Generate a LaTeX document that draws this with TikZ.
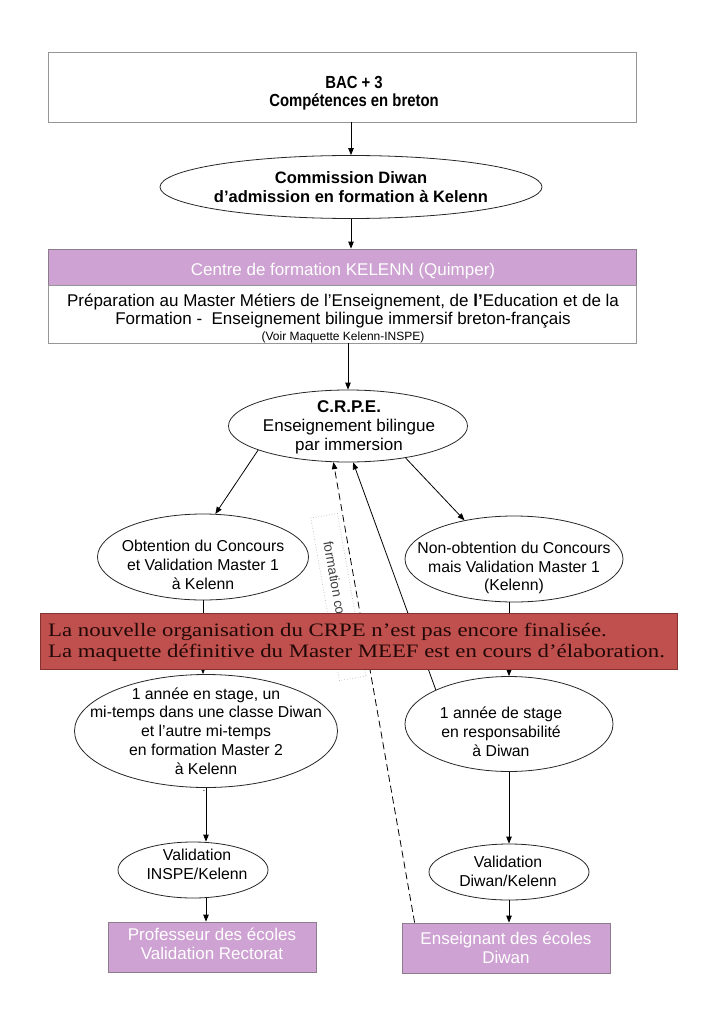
\documentclass[tikz,border=0pt]{standalone}
\usepackage{fontspec}
\setmainfont{Liberation Sans}
\newfontfamily\narrowf[FakeStretch=0.85]{Liberation Sans}
\newfontfamily\bannerf[FakeStretch=1.2]{Liberation Serif}
\usetikzlibrary{shapes.geometric,arrows.meta,calc}
\definecolor{lila}{RGB}{206,162,210}
\definecolor{lilaborder}{RGB}{140,125,140}
\definecolor{bannerred}{RGB}{192,80,77}
\definecolor{bannerborder}{RGB}{130,50,48}
\definecolor{bannertext}{RGB}{35,8,8}
\definecolor{boxgray}{RGB}{150,150,150}
\tikzset{
  ell/.style={ellipse, draw=black!85, line width=0.8pt, inner sep=0pt},
  txt/.style={align=center, inner sep=0pt, font=\fontsize{15.8}{18.8}\selectfont},
  bigtxt/.style={align=center, inner sep=0pt, font=\fontsize{17}{19}\selectfont},
  arr/.style={-{Triangle[length=7pt,width=5.5pt]}, line width=0.8pt, draw=black},
  graybox/.style={rectangle, draw=boxgray, line width=0.8pt, inner sep=0pt},
  pbox/.style={rectangle, draw=lilaborder, fill=lila, line width=0.8pt, inner sep=0pt},
  ptxt/.style={align=center, inner sep=0pt, text=white, font=\fontsize{17}{18.5}\selectfont}
}
\begin{document}
\begin{tikzpicture}[x=1pt,y=-1pt]
\useasboundingbox (0,0) rectangle (724,1024);
% top box
\node[graybox, minimum width=588pt, minimum height=70pt] (bac) at (342,87) {};
\node[align=center, inner sep=0pt, font=\narrowf\bfseries\fontsize{17.5}{18.5}\selectfont] (bact) at (354,93) {BAC + 3\\Compétences en breton};
% commission
\node[ell, minimum width=382pt, minimum height=63pt] (com) at (351,187) {};
\node[align=center, inner sep=0pt, font=\bfseries\fontsize{16.5}{19}\selectfont] (comt) at (351,187) {Commission Diwan\\d’admission en formation à Kelenn};
% Kelenn
\node[pbox, minimum width=588pt, minimum height=36pt] (kel) at (342,267) {};
\node[ptxt] (kelt) at (343,271) {Centre de formation KELENN (Quimper)};
\node[graybox, minimum width=588pt, minimum height=58pt] (prep) at (342,314) {};
\node[txt, font=\fontsize{17}{18}\selectfont] (prept) at (343,318.5) {Préparation au Master Métiers de l’Enseignement, de \textbf{l’}Education et de la\\Formation -\ \ Enseignement bilingue immersif breton-français\\[-2pt]{\fontsize{12}{13}\selectfont(Voir Maquette Kelenn-INSPE)}};
% CRPE
\node[ell, minimum width=239pt, minimum height=72pt] (crpe) at (348,426) {};
\node[bigtxt] (crpet) at (349,427) {\textbf{C.R.P.E.}\\Enseignement bilingue\\par immersion};
% second row
\node[ell, minimum width=211pt, minimum height=86pt] (obt) at (203,557) {};
\node[txt] (obtt) at (203,565) {Obtention du Concours\\et Validation Master 1\\à Kelenn};
\node[ell, minimum width=218pt, minimum height=86pt] (nobt) at (514,559) {};
\node[txt] (nobtt) at (514,568) {Non-obtention du Concours\\mais Validation Master 1\\(Kelenn)};
% third row
\node[ell, minimum width=263pt, minimum height=113pt] (stg) at (206,731) {};
\node[txt] (stgt) at (206,731) {1 année en stage, un\\mi-temps dans une classe Diwan\\et l’autre mi-temps\\en formation Master 2\\à Kelenn};
\node[font=\fontsize{10}{10}\selectfont, inner sep=0pt] (dot) at (204,791) {.};
\node[ell, minimum width=208pt, minimum height=95pt] (resp) at (509,724) {};
\node[txt] (respt) at (501,732) {1 année de stage\\en responsabilité\\à Diwan};
% validations
\node[ell, minimum width=150pt, minimum height=56pt] (vi) at (193,870) {};
\node[txt] (vit) at (197,864) {Validation\\INSPE/Kelenn};
\node[ell, minimum width=160pt, minimum height=56pt] (vd) at (509,872) {};
\node[txt] (vdt) at (508,871) {Validation\\Diwan/Kelenn};
% bottom boxes
\node[pbox, minimum width=208pt, minimum height=50pt] (prof) at (212,947) {};
\node[ptxt] (proft) at (212,944) {Professeur des écoles\\Validation Rectorat};
\node[pbox, minimum width=208pt, minimum height=50pt] (ens) at (506,948) {};
\node[ptxt] (enst) at (506,948) {Enseignant des écoles\\Diwan};
\coordinate (dstart) at ($(ens.north west)+(13,0)$);
% connectors
\draw[arr] (bac.south -| com.north) -- (com.north);
\draw[arr] (com.south) -- (com.south |- kel.north);
\draw[arr] (prep.south -| crpe.north) -- (crpe.north);
\draw[arr] (crpe.195) -- (obt.74);
\draw[arr] (crpe.331) -- (nobt.142);
\draw[arr] (obt.south) -- (obt.south |- stg.north);
\draw[arr] (resp.north |- nobt.south) -- (resp.north);
\draw[arr] (stg.south) -- (stg.south |- vi.north);
\draw[arr] (stg.south |- vi.south) -- (stg.south |- prof.north);
\draw[arr] (resp.south) -- (resp.south |- vd.north);
\draw[arr] (vd.south -| resp.south) -- (resp.south |- ens.north);
\draw[arr, dashed, dash pattern=on 7pt off 4pt] (dstart) -- (crpe.248);
\draw[arr] (resp.155) -- (crpe.278);
% dotted text box
\node[draw=gray!55, dotted, line width=0.7pt, rotate=-80, minimum width=165pt, minimum height=27pt, inner sep=0pt] (fc) at (338.5,597) {};
\node[rotate=-80, anchor=west, inner sep=0pt, text=black!75, font=\fontsize{13.5}{15}\selectfont] (fct) at (328,541) {formation co};
% banner
\node[rectangle, fill=bannerred, draw=bannerborder, line width=0.8pt, minimum width=637pt, minimum height=56pt] (ban) at (358.5,641) {};
\node[anchor=west, align=left, inner sep=0pt, text=bannertext, font=\bannerf\fontsize{19}{21}\selectfont] (bant) at (48,642) {La nouvelle organisation du CRPE n’est pas encore finalisée.\\La maquette définitive du Master MEEF est en cours d’élaboration.};
\end{tikzpicture}
\end{document}
